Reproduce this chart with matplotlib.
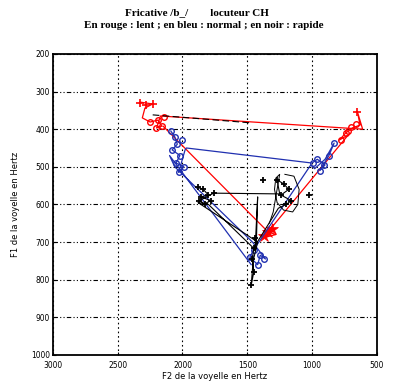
import numpy as np
import matplotlib.pyplot as plt

# F2 / F1 trajectories (Hz)
# red : lent
red_f2 = [2330, 2230, 2290, 2310, 2250, 2190, 2160, 2200, 2170, 610, 650, 630, 690, 740,
          790, 720, 1340, 1300, 1390, 1280, 1340, 2150]
red_f1 = [328, 333, 344, 370, 381, 376, 392, 397, 365, 400, 354, 389, 397, 410,
          429, 415, 673, 655, 690, 680, 673, 392]
red_plus_f2 = [2330, 2280, 2230, 650]
red_plus_f1 = [330, 336, 333, 354]
red_o_f2 = [2250, 2190, 2160, 2205, 2140, 700, 740, 780, 660, 720]
red_o_f1 = [381, 376, 392, 397, 368, 395, 410, 428, 385, 405]
red_star_f2 = [1340, 1310, 1370]
red_star_f1 = [673, 665, 685]

# blue : normal
blue_f2 = [2090, 2060, 2040, 2080, 2020, 2050, 1990, 2030, 1980, 1970, 1000, 960, 900,
           940, 870, 830, 900, 980, 1010, 1450, 1480, 1420, 1400, 1360, 1460, 2060,
           2100, 1470]
blue_f1 = [405, 420, 440, 455, 470, 490, 500, 515, 455, 450, 490, 480, 495,
           510, 470, 437, 480, 505, 495, 720, 740, 760, 735, 745, 700, 500,
           470, 760]
blue_o_f2 = [2090, 2060, 2040, 2080, 2020, 2050, 1990, 2030, 2000, 990, 960, 910,
             940, 870, 830, 1450, 1480, 1420, 1400, 1370]
blue_o_f1 = [405, 420, 440, 455, 470, 490, 500, 515, 430, 490, 480, 495,
             510, 470, 437, 720, 740, 760, 735, 745]

# black : rapide
black_f2 = [1880, 1840, 1800, 1860, 1780, 1830, 1870, 1760, 1250, 1270, 1220, 1180,
            1240, 1160, 1200, 1260, 1450, 1460, 1450, 1470, 1455, 1420, 1880, 1800,
            1440, 1420, 1430]
black_f1 = [555, 560, 575, 580, 590, 598, 590, 570, 572, 535, 545, 560,
            575, 590, 600, 610, 715, 745, 780, 815, 750, 700, 595, 600,
            720, 580, 700]
black_plus_f2 = [1880, 1840, 1800, 1860, 1780, 1830, 1870, 1760, 1270, 1220, 1180,
                 1240, 1160, 1200, 1380, 1020, 1450, 1460, 1450, 1470, 1440]
black_plus_f1 = [555, 560, 575, 580, 590, 598, 590, 570, 535, 545, 560,
                 575, 590, 600, 535, 575, 715, 745, 780, 815, 690]
black_top_f2 = [2230, 1480]
black_top_f1 = [362, 383]
loop_f2 = [1210, 1140, 1100, 1110, 1150, 1220, 1270, 1290, 1280, 1250, 1300, 1330]
loop_f1 = [520, 525, 560, 600, 620, 615, 595, 560, 530, 520, 620, 650]

fig = plt.figure(figsize=(4.07, 3.85), dpi=100)
ax = fig.add_axes([0.130, 0.078, 0.796, 0.782])

ax.plot(red_f2, red_f1, color='red', lw=0.9)
ax.plot(red_plus_f2, red_plus_f1, '+', color='red', ms=6, mew=1.2)
ax.plot(red_o_f2, red_o_f1, 'o', color='red', ms=4, mfc='none', mew=1)
ax.plot(red_star_f2, red_star_f1, '*', color='red', ms=9, mew=0.5)
ax.plot(blue_f2, blue_f1, color='#2030b0', lw=0.9)
ax.plot(blue_o_f2, blue_o_f1, 'o', color='#2030b0', ms=4, mfc='none', mew=1)
ax.plot(black_f2, black_f1, color='black', lw=0.8)
ax.plot(black_plus_f2, black_plus_f1, '+', color='black', ms=5, mew=1.3)
ax.plot(black_top_f2, black_top_f1, color='black', lw=0.8, dashes=(6, 3))
ax.plot(loop_f2, loop_f1, color='black', lw=0.7)

ax.set_xlim(3000, 500)
ax.set_ylim(1000, 200)
ax.set_xticks(np.arange(3000, 499, -500))
ax.set_yticks(np.arange(200, 1001, 100))
ax.tick_params(labelsize=6, length=2, direction='in')
ax.tick_params(axis='x', pad=4)
ax.tick_params(axis='y', pad=2)
for t in ax.get_xticklabels() + ax.get_yticklabels():
    t.set_fontstretch('condensed')
ax.xaxis.grid(True, color='black', lw=0.8, linestyle=(0, (1.5, 2.5)))
ax.yaxis.grid(True, color='black', lw=0.8, linestyle=(0, (4, 2, 1, 2, 1, 2)))
for s in ax.spines.values():
    s.set_linewidth(1.3)

ax.set_xlabel('F2 de la voyelle en Hertz', fontsize=6, labelpad=2)
ax.set_ylabel('F1 de la voyelle en Hertz', fontsize=6, labelpad=8)

fig.text(0.485, 0.968, 'Fricative /b_/        locuteur CH', ha='center', va='center',
         family='Liberation Serif', fontsize=8, weight='bold')
fig.text(0.50, 0.935, 'En rouge : lent ; en bleu : normal ; en noir : rapide',
         ha='center', va='center', family='Liberation Serif', fontsize=8, weight='bold')

fig.savefig('out.png', dpi=100)
